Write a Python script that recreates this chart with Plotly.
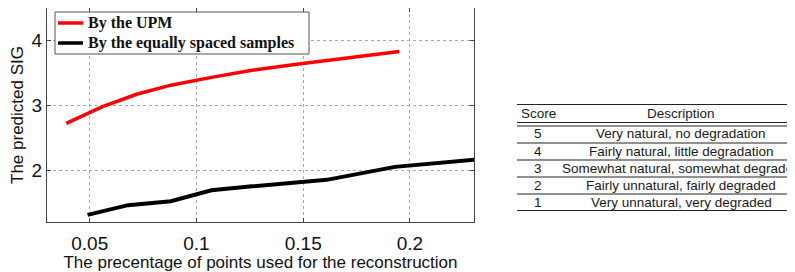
import plotly.graph_objects as go

# ---- data ----
upm_x = [0.039, 0.056, 0.072, 0.088, 0.107, 0.126, 0.146, 0.165, 0.195]
upm_y = [2.72, 2.98, 3.17, 3.31, 3.43, 3.54, 3.63, 3.71, 3.83]
eq_x = [0.049, 0.068, 0.088, 0.107, 0.126, 0.146, 0.161, 0.193, 0.23, 0.25]
eq_y = [1.31, 1.46, 1.52, 1.69, 1.75, 1.81, 1.85, 2.05, 2.16, 2.22]
series_names = ["By the UPM", "By the equally spaced samples"]
series_colors = ["#ff0000", "#000000"]
x_ticks = [0.05, 0.1, 0.15, 0.2]
x_tick_labels = ["0.05", "0.1", "0.15", "0.2"]
y_ticks = [2, 3, 4]
table_header = ["Score", "Description"]
table_scores = ["5", "4", "3", "2", "1"]
table_desc = [
    "Very natural, no degradation",
    "Fairly natural, little degradation",
    "Somewhat natural, somewhat degraded",
    "Fairly unnatural, fairly degraded",
    "Very unnatural, very degraded",
]

OFF = 8  # page body margin
W, H = 795 - OFF, 272 - OFF
# plot area in page pixels
PL, PR, PT, PB = 47, 474, 8, 222
L, R, T, B = PL - OFF, PR - OFF, PT - OFF, PB - OFF


def px_x(px):
    return (px - PL) / (PR - PL)


def px_y(py):
    return (PB - py) / (PB - PT)


fig = go.Figure()
fig.add_trace(go.Scatter(x=upm_x, y=upm_y, mode="lines", name=series_names[0],
                         line=dict(color=series_colors[0], width=3.5)))
fig.add_trace(go.Scatter(x=eq_x, y=eq_y, mode="lines", name=series_names[1],
                         line=dict(color=series_colors[1], width=4)))

sans = "Liberation Sans, Arial, sans-serif"
frame = "#444444"
grid = "#a8a8a8"

fig.update_layout(
    width=W, height=H,
    margin=dict(l=L, r=W - R, t=T, b=H - B, autoexpand=False),
    paper_bgcolor="white", plot_bgcolor="white",
    showlegend=False,
    xaxis=dict(
        range=[0.03, 0.23], tickvals=x_ticks, ticktext=x_tick_labels,
        showgrid=True, gridcolor=grid, griddash="dot", gridwidth=1,
        zeroline=False, showline=True, linecolor=frame, linewidth=1,
        mirror="allticks", ticks="inside", ticklen=4, tickcolor=frame,
        tickfont=dict(family=sans, size=19, color="#111111"),
        ticklabelstandoff=4,
        title=dict(text="The precentage of points used for the reconstruction",
                   font=dict(family=sans, size=17, color="#111111"), standoff=3),
    ),
    yaxis=dict(
        range=[1.2, 4.5], tickvals=y_ticks,
        showgrid=True, gridcolor=grid, griddash="dot", gridwidth=1,
        zeroline=False, showline=True, linecolor=frame, linewidth=1,
        mirror="allticks", ticks="inside", ticklen=4, tickcolor=frame,
        tickfont=dict(family=sans, size=19, color="#111111"),
        title=dict(text="The predicted SIG",
                   font=dict(family=sans, size=17, color="#111111"), standoff=4),
    ),
)

# ---- legend box (drawn in page-pixel layout, MATLAB style) ----
fig.add_shape(type="rect", xref="paper", yref="paper", layer="above",
              x0=px_x(55), x1=px_x(309), y0=px_y(54), y1=px_y(12),
              line=dict(color="#555555", width=1), fillcolor="white")
leg_rows = [23, 43]
for name, col, cy in zip(series_names, series_colors, leg_rows):
    fig.add_shape(type="line", xref="paper", yref="paper", layer="above",
                  x0=px_x(58), x1=px_x(83), y0=px_y(cy), y1=px_y(cy),
                  line=dict(color=col, width=3.5))
    fig.add_annotation(x=px_x(86), y=px_y(cy), xref="paper", yref="paper",
                       text=name, showarrow=False, xanchor="left", yanchor="middle",
                       font=dict(family="Liberation Serif, Times New Roman, serif",
                                 size=16, color="#111111", weight="bold"))

# ---- table (text + horizontal rules) ----
tx0, tx1 = px_x(517), px_x(800)
rule_color = "#222222"
rules = [104.5, 122.5, 126, 143, 160, 177, 194, 210.5]
for ry in rules:
    fig.add_shape(type="line", xref="paper", yref="paper",
                  x0=tx0, x1=tx1, y0=px_y(ry), y1=px_y(ry),
                  line=dict(color=rule_color, width=1))

tfont = dict(family=sans, size=13.5, color="#1a1a1a")
col_score = px_x(538)
col_desc = px_x(681)
fig.add_annotation(x=col_score, y=px_y(113), xref="paper", yref="paper",
                   text=table_header[0], showarrow=False, font=tfont,
                   xanchor="center", yanchor="middle")
fig.add_annotation(x=col_desc, y=px_y(113), xref="paper", yref="paper",
                   text=table_header[1], showarrow=False, font=tfont,
                   xanchor="center", yanchor="middle")
row_centers = [134, 151, 168, 185, 202]
for s, d, cy in zip(table_scores, table_desc, row_centers):
    fig.add_annotation(x=col_score, y=px_y(cy), xref="paper", yref="paper",
                       text=s, showarrow=False, font=tfont,
                       xanchor="center", yanchor="middle")
    fig.add_annotation(x=col_desc, y=px_y(cy), xref="paper", yref="paper",
                       text=d, showarrow=False, font=tfont,
                       xanchor="center", yanchor="middle")

fig.write_html("out.html")
